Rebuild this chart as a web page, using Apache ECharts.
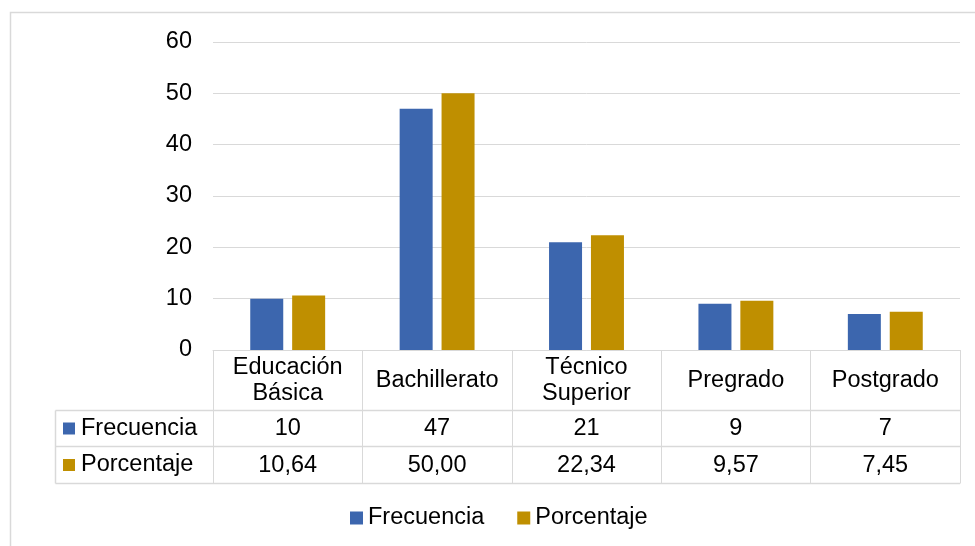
<!DOCTYPE html>
<html>
<head>
<meta charset="utf-8">
<script src="https://cdn.jsdelivr.net/npm/echarts@6/dist/echarts.min.js"></script>
<style>
  html, body { margin: 0; padding: 0; background: #fff; }
  #chart { width: 975px; height: 546px; }
</style>
</head>
<body>
<div id="chart"></div>
<script>
// Nivel de instrucción: frecuencia y porcentaje
const categories = ['Educación\nBásica', 'Bachillerato', 'Técnico\nSuperior', 'Pregrado', 'Postgrado'];
const frecuencia = [10, 47, 21, 9, 7];
const porcentaje = [10.64, 50.00, 22.34, 9.57, 7.45];
const seriesNames = ['Frecuencia', 'Porcentaje'];
const yTicks = { min: 0, max: 60, step: 10 };

const BLUE = '#3c66ae';
const GOLD = '#bf8f00';
const LINE = '#d9d9d9';
const FONT = "Liberation Sans";
const FS = 23.5;

// plot area and data table geometry
const G = { left: 213, right: 15, top: 42, bottom: 196 };
const W = 975, H = 546;
const axisY = H - G.bottom;          // 350
const rowA = axisY + 60.5;           // bottom of category header row
const rowB = rowA + 36;              // bottom of Frecuencia row
const rowC = rowB + 37;              // bottom of Porcentaje row
const tableLeft = 55.5;
const plotRight = W - G.right;

const fmt = v => v.toFixed(2).replace('.', ',');

const chart = echarts.init(document.getElementById('chart'), null, { renderer: 'canvas' });

const labelBase = { fontFamily: FONT, fontSize: FS, color: '#000', verticalAlign: 'middle' };

const option = {
  backgroundColor: '#fff',
  animation: false,
  textStyle: { fontFamily: FONT },
  grid: { left: G.left, right: G.right, top: G.top, bottom: G.bottom, containLabel: false },
  legend: {
    data: seriesNames,
    left: 345,
    top: 501,
    icon: 'rect',
    itemWidth: 13,
    itemHeight: 13,
    itemGap: 33,
    textStyle: { fontFamily: FONT, fontSize: FS, color: '#000' }
  },
  xAxis: [
    {
      type: 'category',
      data: categories,
      position: 'bottom',
      axisLine: { show: true, lineStyle: { color: LINE, width: 1 } },
      axisTick: { show: true, length: rowC - axisY, lineStyle: { color: LINE, width: 1 } },
      axisLabel: Object.assign({ margin: 31, lineHeight: 26, interval: 0 }, labelBase),
      splitLine: { show: false }
    },
    {
      type: 'category',
      data: categories,
      position: 'bottom',
      axisLine: { show: false },
      axisTick: { show: false },
      axisLabel: Object.assign({ margin: 79, interval: 0, formatter: (v, i) => String(frecuencia[i]) }, labelBase)
    },
    {
      type: 'category',
      data: categories,
      position: 'bottom',
      axisLine: { show: false },
      axisTick: { show: false },
      axisLabel: Object.assign({ margin: 116, interval: 0, formatter: (v, i) => fmt(porcentaje[i]) }, labelBase)
    }
  ],
  yAxis: {
    type: 'value',
    min: yTicks.min,
    max: yTicks.max,
    interval: yTicks.step,
    axisLine: { show: false },
    axisTick: { show: false },
    axisLabel: { fontFamily: FONT, fontSize: FS, color: '#000', margin: 21 },
    splitLine: { lineStyle: { color: LINE, width: 1 } }
  },
  series: [
    {
      name: seriesNames[0],
      type: 'bar',
      data: frecuencia,
      barWidth: 33,
      barGap: '27%',
      itemStyle: { color: BLUE }
    },
    {
      name: seriesNames[1],
      type: 'bar',
      data: porcentaje,
      barWidth: 33,
      barGap: '27%',
      itemStyle: { color: GOLD }
    }
  ],
  graphic: [
    // outer chart border
    { type: 'rect', shape: { x: 10.5, y: 12.5, width: 1000, height: 600 },
      style: { fill: 'none', stroke: LINE, lineWidth: 1.5 }, silent: true, z: 0 },
    // table horizontal rules
    { type: 'line', shape: { x1: tableLeft, y1: rowA, x2: plotRight, y2: rowA }, style: { stroke: LINE, lineWidth: 1.5 } },
    { type: 'line', shape: { x1: tableLeft, y1: rowB, x2: plotRight, y2: rowB }, style: { stroke: LINE, lineWidth: 1.5 } },
    { type: 'line', shape: { x1: tableLeft, y1: rowC, x2: plotRight, y2: rowC }, style: { stroke: LINE, lineWidth: 1.5 } },
    { type: 'line', shape: { x1: tableLeft, y1: rowA, x2: tableLeft, y2: rowC }, style: { stroke: LINE, lineWidth: 1.5 } },
    // row keys
    { type: 'rect', shape: { x: 63, y: (rowA + rowB) / 2 - 6, width: 12, height: 12 }, style: { fill: BLUE } },
    { type: 'text', style: { x: 81, y: (rowA + rowB) / 2, text: seriesNames[0], font: FS + 'px ' + FONT, fill: '#000', verticalAlign: 'middle' } },
    { type: 'rect', shape: { x: 63, y: (rowB + rowC) / 2 - 6, width: 12, height: 12 }, style: { fill: GOLD } },
    { type: 'text', style: { x: 81, y: (rowB + rowC) / 2, text: seriesNames[1], font: FS + 'px ' + FONT, fill: '#000', verticalAlign: 'middle' } }
  ]
};

chart.setOption(option);
</script>
</body>
</html>
